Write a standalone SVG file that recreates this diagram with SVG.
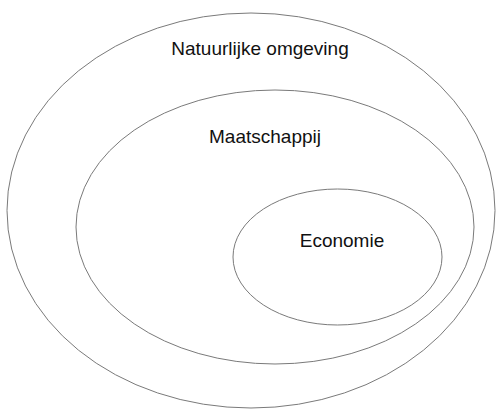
<svg xmlns="http://www.w3.org/2000/svg" width="497" height="410" viewBox="0 0 497 410">
  <style>
    .ring { fill: none; stroke: #7a7a7a; stroke-width: 1; }
    .label { font-family: "Liberation Sans", Arial, sans-serif; font-size: 19px; fill: #111; text-anchor: middle; }
  </style>
  <rect width="497" height="410" fill="#ffffff"/>
  <g id="natuurlijke-omgeving">
    <ellipse class="ring" cx="251" cy="210.5" rx="244" ry="197.5"/>
    <text class="label" x="260" y="55">Natuurlijke omgeving</text>
  </g>
  <g id="maatschappij">
    <ellipse class="ring" cx="275" cy="227" rx="199" ry="137"/>
    <text class="label" x="265" y="143">Maatschappij</text>
  </g>
  <g id="economie">
    <ellipse class="ring" cx="337.5" cy="257" rx="104.5" ry="68"/>
    <text class="label" x="342" y="247">Economie</text>
  </g>
  <g id="connectors"/>
</svg>
